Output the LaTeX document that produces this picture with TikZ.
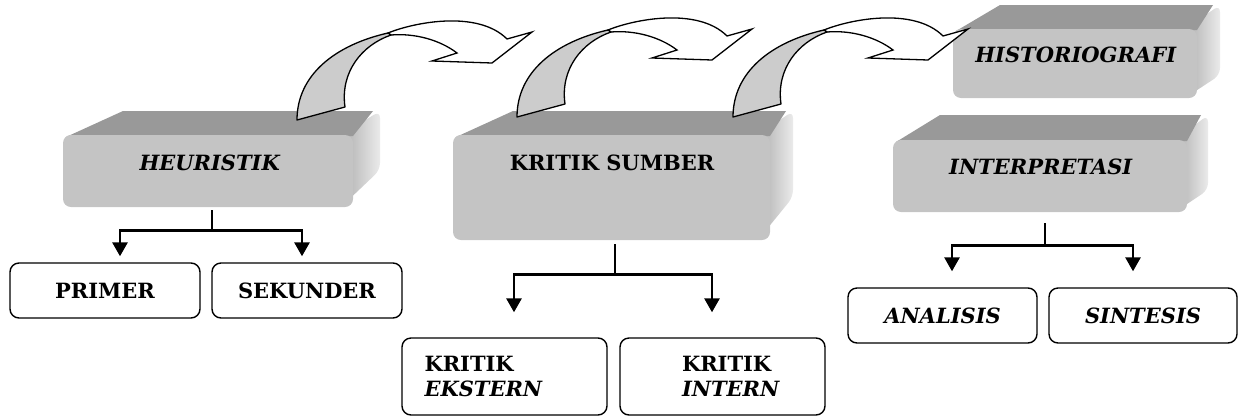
\documentclass[tikz,border=0pt]{standalone}
\usepackage{fontspec}
\setmainfont{DejaVu Serif}
\usetikzlibrary{arrows.meta}
\newcommand\lblfont{\fontsize{21}{25}\selectfont\bfseries}
\tikzset{
  face/.style={fill=black!23, rounded corners=8pt, inner sep=0pt},
  topface/.style={fill=black!40},
  leaf/.style={draw, line width=1.4pt, rounded corners=9pt, fill=white, inner sep=0pt,
    minimum height=55pt, minimum width=190pt, font=\lblfont},
  cgray/.style={draw, line width=1.3pt, fill=black!20, line join=round},
  cwhite/.style={draw, line width=1.3pt, fill=white, line join=miter},
  stemline/.style={line width=2.8pt},
  arr/.style={line width=2.8pt, -{Triangle[length=14pt,width=15pt]}},
  lbl/.style={font=\lblfont, inner sep=0pt}
}
% name x1 y1 x2 y2 xbackleft yback xbackright yrightbottom
\newcommand\threebox[9]{%
  \shade[left color=black!32, right color=black!8, rounded corners=7pt]
    (#4-12,#3) -- (#8,#7) -- (#8,#9) -- (#4-12,#5) -- cycle;
  \fill[topface] (#2+3,#3+2) -- (#6,#7) -- (#8-7,#7) -- (#4,#3+1) -- cycle;
  \node[face, minimum width={#4-#2}, minimum height={#5-#3}] (#1)
    at ({(#2+#4)/2},{(#3+#5)/2}) {};
}
\newcommand\curvarrow[2]{%
  \begin{scope}[shift={(#1,#2)}]
    \draw[cwhite] (388,33) .. controls (415,22) and (478,10) .. (507,39)
      -- (532,32) -- (492,63) -- (432,61) -- (457,53)
      .. controls (440,40) and (415,33) .. (391,35) -- cycle;
    \draw[cgray] (297,120) .. controls (297,75) and (335,45) .. (388,33)
      -- (391,35) .. controls (362,45) and (340,72) .. (345,107) -- cycle;
  \end{scope}}
\begin{document}
\begin{tikzpicture}[x=1pt,y=-1pt]
\useasboundingbox (0,0) rectangle (1244,416);

% 3D boxes
\threebox{heu}{63}{135}{353}{207}{123}{111}{380}{170}
\threebox{ks}{453}{135}{770}{240}{513}{111}{793}{197}
\threebox{hist}{953}{29}{1197}{98}{1000}{5}{1220}{75}
\threebox{interp}{893}{140}{1187}{212}{940}{115}{1208}{190}

\node[lbl] (heut) at (210,163) {\textit{HEURISTIK}};
\node[lbl] (kst) at (612,163) {KRITIK SUMBER};
\node[lbl] (histt) at (1076,55) {\textit{HISTORIOGRAFI}};
\node[lbl] (interpt) at (1041,167) {\textit{INTERPRETASI}};

% curved arrows
\curvarrow{0}{0}
\curvarrow{220}{-3}
\curvarrow{436}{-3}

% leaf boxes
\node[leaf] (prim) at (105,290.5) {PRIMER};
\node[leaf] (seku) at (307,290.5) {SEKUNDER};
\node[leaf, minimum width=205pt, minimum height=77pt, text width=160pt, align=left]
  (ext) at (504.5,376.5) {KRITIK\\\textit{EKSTERN}};
\node[leaf, minimum width=205pt, minimum height=77pt, text width=81pt, align=left]
  (int) at (722.5,376.5) {KRITIK\\\textit{INTERN}};
\node[leaf, minimum width=189pt] (ana) at (942.5,315.5) {\textit{ANALISIS}};
\node[leaf, minimum width=188pt] (sin) at (1143,315.5) {\textit{SINTESIS}};

% connectors
\draw[stemline] ([xshift=4pt,yshift=-3pt]heu.south) -- ++(0,20) coordinate (hj);
\draw[arr] (hj) -| ([xshift=15pt,yshift=6pt]prim.north);
\draw[arr] (hj) -| ([xshift=-5pt,yshift=6pt]seku.north);

\draw[stemline] ([xshift=3.5pt,yshift=-4pt]ks.south) -- ++(0,30) coordinate (kj);
\draw[arr] (kj) -| ([xshift=9.5pt,yshift=25pt]ext.north);
\draw[arr] (kj) -| ([xshift=-10.5pt,yshift=25pt]int.north);

\draw[stemline] ([xshift=5pt,yshift=-11pt]interp.south) -- ++(0,22) coordinate (ij);
\draw[arr] (ij) -| ([xshift=9.5pt,yshift=16pt]ana.north);
\draw[arr] (ij) -| ([xshift=-10pt,yshift=16pt]sin.north);
\end{tikzpicture}
\end{document}
